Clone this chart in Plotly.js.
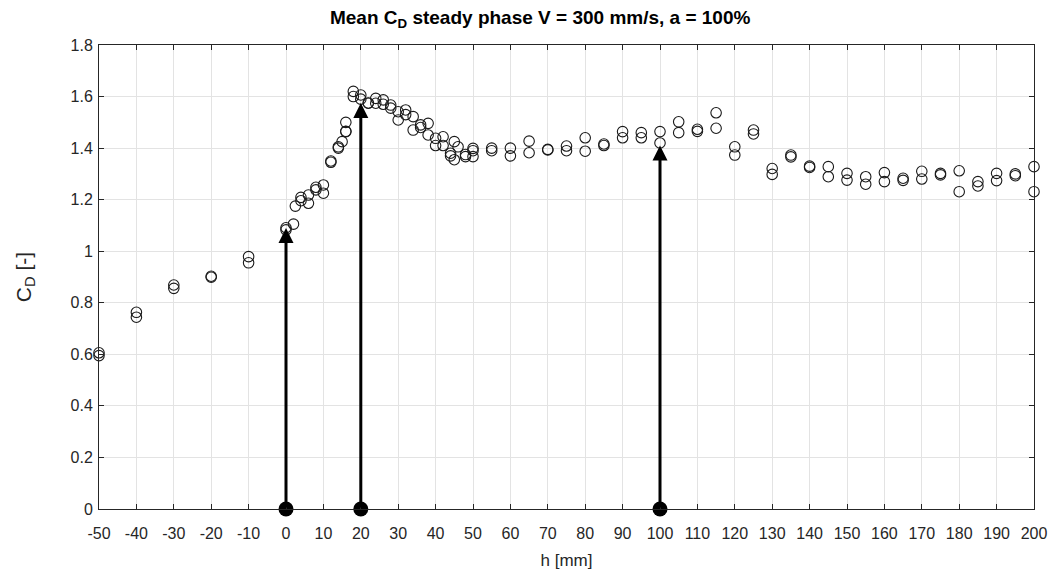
<!DOCTYPE html>
<html>
<head>
<meta charset="utf-8">
<script src="https://cdn.plot.ly/plotly-3.0.1.min.js"></script>
<style>html,body{margin:0;padding:0;background:#fff;}#chart{width:1054px;height:574px;}</style>
</head>
<body>
<div id="chart"></div>
<script>
// Measured data: position h [mm] and mean drag coefficient C_D [-]
const h = [
  -50, -50, -40, -40, -30, -30, -20, -20, -10, -10,
  0, 0, 2, 2.5, 4, 4, 6, 6, 8, 8, 10, 10,
  12, 12, 14, 14, 15, 16, 16, 16, 18, 18, 20, 20,
  22, 22, 24, 24, 26, 26, 28, 28, 30, 30, 32, 32,
  34, 34, 36, 36, 38, 38, 40, 40, 42, 42, 44, 44,
  45, 45, 46, 48, 48, 50, 50, 50,
  55, 55, 60, 60, 65, 65, 70, 70, 75, 75, 80, 80,
  85, 85, 90, 90, 95, 95, 100, 100, 105, 105, 110, 110,
  115, 115, 120, 120, 125, 125, 130, 130, 135, 135, 140, 140,
  145, 145, 150, 150, 155, 155, 160, 160, 165, 165, 170, 170,
  175, 175, 180, 180, 185, 185, 190, 190, 195, 195, 200, 200
];
const cd = [
  0.606, 0.595, 0.763, 0.744, 0.869, 0.856, 0.903, 0.899, 0.979, 0.955,
  1.091, 1.083, 1.105, 1.175, 1.209, 1.196, 1.218, 1.186, 1.248, 1.238, 1.257, 1.225,
  1.350, 1.345, 1.405, 1.400, 1.425, 1.464, 1.500, 1.465, 1.620, 1.600, 1.606, 1.590,
  1.574, 1.575, 1.593, 1.574, 1.587, 1.570, 1.567, 1.555, 1.541, 1.509, 1.548, 1.530,
  1.522, 1.470, 1.490, 1.480, 1.496, 1.451, 1.438, 1.410, 1.444, 1.410, 1.380, 1.370,
  1.425, 1.355, 1.405, 1.367, 1.375, 1.399, 1.367, 1.390,
  1.400, 1.390, 1.400, 1.370, 1.427, 1.382, 1.395, 1.393, 1.408, 1.390, 1.440, 1.388,
  1.416, 1.410, 1.464, 1.440, 1.460, 1.440, 1.464, 1.420, 1.502, 1.460, 1.473, 1.465,
  1.537, 1.477, 1.405, 1.373, 1.470, 1.455, 1.321, 1.298, 1.373, 1.366, 1.330, 1.325,
  1.328, 1.289, 1.302, 1.276, 1.289, 1.260, 1.305, 1.270, 1.283, 1.275, 1.310, 1.280,
  1.302, 1.296, 1.312, 1.231, 1.270, 1.253, 1.302, 1.274, 1.300, 1.293, 1.328, 1.231
];
// Highlighted positions (arrows)
const arrowH = [0, 20, 100];
const arrowTop = [1.09, 1.575, 1.41];
const arrowBase = [0, 0, 0];

const xTicks = [];
for (let v = -50; v <= 200; v += 10) xTicks.push(v);
const yTicks = [0, 0.2, 0.4, 0.6, 0.8, 1, 1.2, 1.4, 1.6, 1.8];

const axisColor = '#262626';
const font = {family: 'Liberation Sans, Arial, Helvetica, sans-serif', color: axisColor};

const traces = [
  {
    x: h, y: cd, type: 'scatter', mode: 'markers', cliponaxis: false,
    marker: {symbol: 'circle-open', size: 10.5, color: '#1a1a1a', line: {width: 1.1, color: '#1a1a1a'}},
    hoverinfo: 'x+y'
  },
  {
    x: arrowH, y: arrowBase, type: 'scatter', mode: 'markers', cliponaxis: false,
    marker: {symbol: 'circle', size: 15, color: '#000'}, hoverinfo: 'skip'
  }
];

const annotations = arrowH.map((xv, i) => ({
  x: xv, y: arrowTop[i], xref: 'x', yref: 'y',
  ax: xv, ay: arrowBase[i], axref: 'x', ayref: 'y',
  text: '', showarrow: true, arrowhead: 2, arrowsize: 1, arrowwidth: 3,
  arrowcolor: '#000', standoff: 0, startstandoff: 0
}));

const layout = {
  width: 1054, height: 574,
  margin: {l: 99, r: 20, t: 45, b: 65},
  paper_bgcolor: '#fff', plot_bgcolor: '#fff',
  showlegend: false,
  font: Object.assign({size: 16}, font),
  title: {
    text: '<b>Mean C<sub>D</sub> steady phase V = 300 mm/s, a = 100%</b>',
    x: 0.5125, xanchor: 'center', y: 0.97, yanchor: 'middle',
    font: Object.assign({}, font, {size: 19, color: '#000'})
  },
  xaxis: {
    range: [-50, 200], tickvals: xTicks, ticktext: xTicks.map(String),
    ticks: 'inside', ticklen: 5, tickcolor: axisColor, tickwidth: 1,
    showline: true, linecolor: axisColor, linewidth: 1, mirror: 'ticks',
    showgrid: true, gridcolor: '#e3e3e3', gridwidth: 1, zeroline: false,
    tickfont: Object.assign({}, font, {size: 16}), ticklabelstandoff: 10,
    title: {text: 'h [mm]', font: Object.assign({}, font, {size: 17}), standoff: 12}
  },
  yaxis: {
    range: [0, 1.8], tickvals: yTicks, ticktext: yTicks.map(String),
    ticks: 'inside', ticklen: 5, tickcolor: axisColor, tickwidth: 1,
    showline: true, linecolor: axisColor, linewidth: 1, mirror: 'ticks',
    showgrid: true, gridcolor: '#e3e3e3', gridwidth: 1, zeroline: false,
    tickfont: Object.assign({}, font, {size: 16}), ticklabelstandoff: 2,
    title: {text: 'C<sub>D</sub> [-]', font: Object.assign({}, font, {size: 21}), standoff: 33}
  },
  annotations: annotations
};

Plotly.newPlot('chart', traces, layout, {displayModeBar: false, staticPlot: true});
</script>
</body>
</html>
